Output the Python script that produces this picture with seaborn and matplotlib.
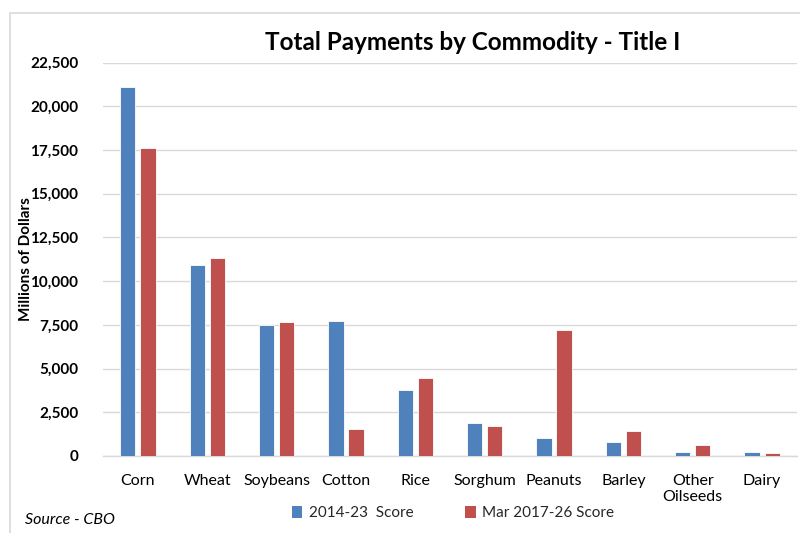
import matplotlib
matplotlib.use("Agg")
import matplotlib.pyplot as plt
import seaborn as sns
import pandas as pd
from matplotlib.patches import Patch
from matplotlib.lines import Line2D
from matplotlib.ticker import FuncFormatter

categories = ["Corn", "Wheat", "Soybeans", "Cotton", "Rice", "Sorghum",
              "Peanuts", "Barley", "Other\nOilseeds", "Dairy"]
series_names = ["2014-23  Score", "Mar 2017-26 Score"]
score_2014_23 = [21100, 10900, 7500, 7700, 3800, 1900, 1000, 800, 250, 250]
score_2017_26 = [17600, 11300, 7650, 1550, 4450, 1700, 7200, 1450, 630, 150]
y_ticks = [0, 2500, 5000, 7500, 10000, 12500, 15000, 17500, 20000, 22500]
colors = ["#4F81BD", "#C0504D"]

df = pd.DataFrame({
    "Commodity": categories * 2,
    "Series": [series_names[0]] * len(categories) + [series_names[1]] * len(categories),
    "Value": score_2014_23 + score_2017_26,
})

sns.set_theme(style="white")
plt.rcParams["font.family"] = ["Lato", "DejaVu Sans"]

fig = plt.figure(figsize=(8, 5.33), dpi=100)
ax = fig.add_axes([0.129, 0.1445, 0.867, 0.738])

sns.barplot(data=df, x="Commodity", y="Value", hue="Series",
            order=categories, hue_order=series_names, palette=colors,
            saturation=1, width=0.58, gap=0.24, edgecolor="white", linewidth=0.6,
            errorbar=None, ax=ax, legend=False, zorder=3)

ax.set_ylim(0, 22500)
ax.set_xlim(-0.5, len(categories) - 0.5)
ax.set_yticks(y_ticks)
ax.yaxis.set_major_formatter(FuncFormatter(lambda v, p: f"{int(v):,}"))
ax.grid(axis="y", color="#D9D9D9", linewidth=1.0, zorder=0)
ax.set_axisbelow(True)
for s in ["top", "right", "left"]:
    ax.spines[s].set_visible(False)
ax.spines["bottom"].set_color("#D9D9D9")
ax.spines["bottom"].set_linewidth(1.0)
ax.tick_params(axis="both", length=0)
ax.tick_params(axis="y", pad=18)
ax.tick_params(axis="x", pad=13)
for lbl in ax.get_yticklabels():
    lbl.set_fontweight("bold")
    lbl.set_fontsize(11)
    lbl.set_color("black")
for lbl in ax.get_xticklabels():
    lbl.set_fontsize(11.5)
    lbl.set_color("black")
ax.set_xlabel("")
ax.set_ylabel("Millions of Dollars", fontsize=11, fontweight="bold", color="black")
ax.yaxis.set_label_coords(-0.101, 0.5)

fig.text(0.591, 0.92, "Total Payments by Commodity - Title I", ha="center", va="center",
         fontsize=17.5, fontweight="bold", color="black")

handles = [Patch(facecolor=c, edgecolor="none") for c in colors]
fig.legend(handles, series_names, loc="center", bbox_to_anchor=(0.566, 0.0375),
           ncol=2, frameon=False, fontsize=11, handlelength=0.7, handleheight=0.9,
           handletextpad=0.4, columnspacing=3.4)

fig.text(0.031, 0.025, "Source - CBO", fontsize=11.5, fontstyle="italic", color="black",
         ha="left", va="center")

# chart border (left and top)
fig.add_artist(Line2D([0.012, 0.012], [0.0, 0.976], transform=fig.transFigure,
                      color="#D9D9D9", linewidth=1.2))
fig.add_artist(Line2D([0.012, 1.0], [0.976, 0.976], transform=fig.transFigure,
                      color="#D9D9D9", linewidth=1.2))

fig.savefig("out.png", dpi=100)
